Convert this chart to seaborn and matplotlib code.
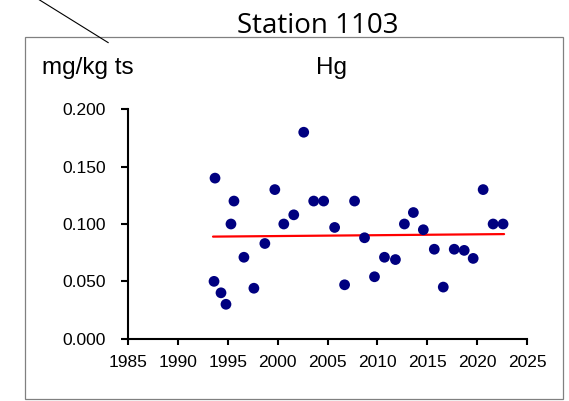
import matplotlib
matplotlib.use("Agg")
import matplotlib.pyplot as plt
import seaborn as sns
import pandas as pd
from matplotlib.patches import Rectangle
from matplotlib.lines import Line2D

years = [1993.6, 1993.7, 1994.3, 1994.8, 1995.3, 1995.6, 1996.6, 1997.6, 1998.7,
         1999.7, 2000.6, 2001.6, 2002.6, 2003.6, 2004.6, 2005.7, 2006.7, 2007.7,
         2008.7, 2009.7, 2010.7, 2011.8, 2012.7, 2013.6, 2014.6, 2015.7, 2016.6,
         2017.7, 2018.7, 2019.6, 2020.6, 2021.6, 2022.6]
hg = [0.050, 0.140, 0.040, 0.030, 0.100, 0.120, 0.071, 0.044, 0.083,
      0.130, 0.100, 0.108, 0.180, 0.120, 0.120, 0.097, 0.047, 0.120,
      0.088, 0.054, 0.071, 0.069, 0.100, 0.110, 0.095, 0.078, 0.045,
      0.078, 0.077, 0.070, 0.130, 0.100, 0.100]
trend_years = [1993.5, 2022.7]
trend_vals = [0.0890, 0.0912]
x_ticks = [1985, 1990, 1995, 2000, 2005, 2010, 2015, 2020, 2025]
y_ticks = [0.000, 0.050, 0.100, 0.150, 0.200]

df = pd.DataFrame({"year": years, "hg": hg})
tdf = pd.DataFrame({"year": trend_years, "hg": trend_vals})

sns.set_style("white")
plt.rcParams["font.family"] = ["Liberation Sans", "DejaVu Sans"]
plt.rcParams["text.color"] = "black"
plt.rcParams["xtick.color"] = "black"
plt.rcParams["ytick.color"] = "black"
plt.rcParams["axes.labelcolor"] = "black"

W, H = 569, 401
fig = plt.figure(figsize=(W / 100, H / 100), dpi=100)

def fx(px):
    return px / W

def fy(py):
    return 1 - py / H

# outer chart border
fig.patches.append(Rectangle((fx(25), fy(399)), fx(563) - fx(25), fy(37) - fy(399),
                             transform=fig.transFigure, fill=False,
                             edgecolor="#808080", linewidth=0.9, zorder=0))
# diagonal pointer line
fig.lines.append(Line2D([fx(38), fx(108.3)], [fy(-1), fy(42.7)],
                        transform=fig.transFigure, color="black", linewidth=0.8))

ax = fig.add_axes([fx(128.3), fy(338.7), fx(527) - fx(128.3), fy(109.3) - fy(338.7)])

sns.scatterplot(data=df, x="year", y="hg", ax=ax, color="#000080", s=60,
                edgecolor="none", zorder=3)
sns.lineplot(data=tdf, x="year", y="hg", ax=ax, color="#ff0000", linewidth=1.6,
             zorder=2)

ax.set_xlim(1985, 2025)
ax.set_ylim(0, 0.2)
ax.set_xticks(x_ticks)
ax.set_yticks(y_ticks)
ax.set_xticklabels([str(t) for t in x_ticks])
ax.set_yticklabels([f"{t:.3f}" for t in y_ticks])
ax.set_xlabel("")
ax.set_ylabel("")

for s in ["top", "right"]:
    ax.spines[s].set_visible(False)
for s in ["left", "bottom"]:
    ax.spines[s].set_color("black")
    ax.spines[s].set_linewidth(1.5)

ax.tick_params(axis="y", direction="out", length=5, width=1.5, color="black",
               labelcolor="black", left=True, pad=11, labelsize=12.5)
ax.tick_params(axis="x", direction="out", length=4, width=1.5, color="black",
               labelcolor="black", bottom=True, pad=8, labelsize=12.5)
ax.patch.set_alpha(0)

fig.text(fx(318), fy(32.7), "Station 1103", family=["Open Sans", "DejaVu Sans"],
         fontsize=20, color="black", ha="center", va="baseline")
fig.text(fx(331.7), fy(74), "Hg", fontsize=17.5, color="black",
         ha="center", va="baseline")
fig.text(fx(42), fy(74), "mg/kg ts", fontsize=17.5, color="black",
         ha="left", va="baseline")

fig.savefig("out.png", dpi=100)
